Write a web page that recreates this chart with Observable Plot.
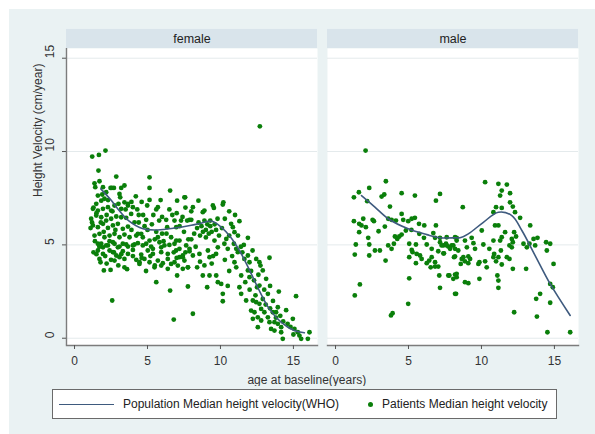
<!DOCTYPE html>
<html><head><meta charset="utf-8">
<script src="https://cdn.jsdelivr.net/npm/d3@7"></script>
<script src="https://cdn.jsdelivr.net/npm/@observablehq/plot@0.6"></script>
<style>
body{margin:0;background:#fff;font-family:"Liberation Sans",Arial,sans-serif;}
#wrap{position:relative;width:595px;height:434px;background:#fff;overflow:hidden}
#bg{position:absolute;left:9px;top:9px;right:0;bottom:0;background:#eaf2f3}
#chart{position:absolute;left:0;top:0}
#legend{position:absolute;left:52px;top:389px;width:503px;height:28px;background:#fff;border:1px solid #6a6a6a;font-size:12px;color:#222}
#legend .ln{position:absolute;left:6px;top:14px;width:55px;height:0;border-top:1.6px solid #3e5a7e}
#legend .t1{position:absolute;left:70px;top:7px;white-space:nowrap}
#legend .dt{position:absolute;left:315px;top:12px;width:5px;height:5px;border-radius:50%;background:#0a7f0a}
#legend .t2{position:absolute;left:329px;top:7px;white-space:nowrap}
</style></head>
<body>
<div id="wrap"><div id="bg"></div><div id="chart"></div>
<div id="legend"><div class="ln"></div><div class="t1" id="l1"></div><div class="dt"></div><div class="t2" id="l2"></div></div>
</div>
<script>
const panels = ["female", "male"];
const xTicks = [0, 5, 10, 15];
const yTicks = [0, 5, 10, 15];
const legendLabels = ["Population Median height velocity(WHO)", "Patients Median height velocity"];
const xTitle = "age at baseline(years)";
const yTitle = "Height Velocity (cm/year)";

// WHO population median curves [age, cm/year]
const femaleWHO = [[1.8,8.0],[2.5,7.4],[3.0,6.9],[3.7,6.3],[4.7,5.86],[5.7,5.8],[6.85,5.9],[8.0,6.05],[8.5,6.13],[9.4,6.27],[10.05,5.95],[10.7,5.41],[11.3,4.7],[11.9,3.8],[12.55,2.73],[13.35,1.57],[14.15,0.86],[15.05,0.41],[15.75,0.29]];
const maleWHO = [[1.78,7.64],[2.7,7.02],[3.61,6.4],[4.98,5.86],[6.25,5.55],[7.16,5.38],[8.3,5.38],[8.53,5.38],[9.1,5.59],[10.13,6.21],[11.16,6.75],[12.08,6.57],[12.77,5.77],[13.68,4.43],[14.71,2.91],[16.08,1.22]];

// Patients [age, cm/year]
const femalePts = [
[1.21,9.73],[1.67,9.82],[2.12,10.05],[1.64,8.98],[1.37,8.3],[1.71,8.41],[1.42,8.09],[1.95,8.09],[2.17,7.82],[2.47,8.05],[2.7,8.05],[2.86,8.66],[1.6,7.64],[1.83,7.37],[1.49,7.2],[2.05,7.47],
[1.26,6.93],[1.6,6.84],[1.95,6.93],[2.29,7.02],[2.51,6.84],[2.74,7.11],[3.01,7.2],[3.42,7.28],[3.66,7.11],[3.2,6.93],[3.08,7.73],[3.13,7.55],[3.42,8.18],[3.2,8.05],[2.56,8.05],
[1.14,6.4],[1.49,6.57],[1.83,6.48],[2.17,6.3],[2.51,6.4],[2.86,6.52],[3.2,6.48],[3.54,6.45],[3.88,6.66],
[1.26,6.04],[1.6,5.95],[1.95,6.13],[2.29,5.91],[2.63,6.04],[2.97,6.13],[3.31,5.86],[3.66,5.98],[4.11,6.21],
[1.37,5.5],[1.71,5.59],[2.05,5.41],[2.4,5.5],[2.74,5.59],[3.08,5.41],[3.42,5.55],[3.77,5.41],[4.23,5.5],[4.57,5.59],
[1.6,5.06],[1.95,4.87],[2.29,4.97],[2.63,5.14],[2.97,4.87],[3.31,5.06],[3.66,4.91],[4.11,5.02],[4.68,4.97],
[1.83,5.06],[2.17,4.97],[2.74,5.06],[3.08,4.91],[3.54,5.02],[4.0,4.97],[4.34,5.09],[4.91,5.06],[5.25,4.91],[5.82,5.14],[6.16,4.97],[6.85,5.06],[7.19,5.23],[7.65,4.97],
[1.6,4.7],[1.95,4.52],[2.63,4.61],[2.86,4.43],[3.31,4.66],[3.66,4.52],[4.0,4.73],[4.57,4.48],[5.02,4.7],[5.37,4.52],[5.94,4.61],[6.39,4.52],[6.96,4.7],[7.42,4.43],[7.88,4.66],
[1.71,4.25],[2.74,4.16],[3.08,4.34],[3.42,4.25],[4.23,4.2],[4.45,4.07],[4.79,4.25],[5.14,4.07],[5.71,4.16],[6.05,4.02],[6.39,4.25],[6.85,4.07],[7.19,4.34],[7.53,4.16],
[1.78,4.07],[2.01,3.63],[2.47,3.66],[3.42,3.8],[4.45,3.98],[5.48,3.8],[5.94,3.89],[6.39,3.72],[6.62,3.98],[7.08,3.89],[7.42,3.72],[7.77,3.8],[7.03,3.36],
[2.58,2.02],[5.6,3.0],[6.55,2.55],[6.8,1.0],[8.11,1.31],
[1.3,7.0],[1.5,6.7],[1.8,6.2],[2.0,5.7],[1.4,5.2],[1.7,4.9],[2.2,6.6],[1.9,7.7],[2.3,7.4],[1.1,5.9],[1.3,4.6],[2.1,4.4],[2.4,4.7],[1.5,4.5],[1.2,6.2],[2.6,6.8],[2.8,5.8],[2.4,5.2],[2.7,4.6],
[5.14,8.62],[5.14,8.05],[6.55,7.91],[7.58,7.55],[7.03,7.37],[5.14,7.41],[4.98,7.11],[5.71,7.02],[5.6,6.9],[4.0,7.02],[3.66,7.2],[4.91,6.34],[6.28,6.34],[6.85,6.3],[7.88,6.34],[6.35,5.95],[6.97,5.95],[5.71,5.41],[5.14,5.23],[4.68,5.41],[6.62,5.41],[6.97,5.23],[7.19,4.79],[5.94,4.87],[5.37,4.79],[4.34,5.59],
[4.4,6.6],[4.8,6.0],[5.3,6.1],[5.6,5.7],[6.0,6.5],[6.3,5.6],[6.7,6.6],[7.2,6.0],[7.5,5.7],[7.8,5.3],[5.9,7.4],[4.2,7.6],[4.6,7.3],[3.9,5.8],[4.4,6.2],[5.0,5.8],[6.1,5.2],[7.4,6.5],[8.0,6.8],[7.6,7.0],
[3.5,6.9],[3.9,7.3],[4.3,6.9],[4.7,6.6],[5.4,6.6],[5.8,6.3],[6.5,6.9],[7.0,6.7],[7.3,6.3],[5.5,5.3],[6.0,5.6],[6.5,5.0],[6.8,4.6],[7.0,4.3],[7.6,4.6],[8.3,4.9],[8.0,5.3],[8.6,4.1],[8.9,3.9],[9.4,4.0],[5.2,4.4],[4.6,4.3],[4.0,4.4],[3.2,4.5],[3.0,3.9],[2.5,4.2],[2.2,4.0],[3.6,3.7],[4.9,3.6],[5.5,3.9],[8.4,3.8],[9.5,4.4],[10.3,4.2],[10.6,3.6],[10.5,2.8],
[7.53,7.55],[8.49,7.37],[8.11,7.02],[9.48,7.11],[9.55,6.98],[10.2,7.28],[10.16,7.16],[8.79,6.75],[8.9,6.84],[7.72,6.3],[8.0,6.34],
[8.5,6.2],[8.7,6.0],[8.9,6.3],[9.0,5.8],[9.1,6.1],[9.2,5.6],[9.3,6.0],[9.4,5.7],[8.6,5.5],[8.8,5.7],[9.0,5.4],[9.3,6.3],[9.6,6.1],[9.7,5.8],[9.8,6.4],[9.9,5.5],[8.4,5.9],[8.2,5.6],
[10.73,6.13],[10.85,5.95],[11.3,6.27],[10.4,5.32],[10.96,5.68],[11.88,5.38],[10.92,5.06],[11.08,4.79],[11.19,4.61],[10.27,5.06],[10.5,4.79],[9.59,5.23],[9.82,4.87],[9.7,4.52],[9.14,4.7],[9.25,4.34],[7.88,4.79],[8.11,4.43],[8.56,4.52],[7.42,4.34],[7.77,3.8],[7.77,2.77],[9.09,2.73],[8.79,3.36],[9.25,3.36],[9.71,3.36],[9.82,3.0],[10.05,2.91],[10.16,2.38],[10.16,1.98],
[10.96,4.07],[11.08,3.8],[11.42,3.36],[11.3,2.73],[11.42,2.38],[11.64,4.25],[11.88,4.43],[11.99,4.07],[11.88,3.63],[11.99,3.27],[11.76,2.02],[12.22,2.02],[12.45,4.25],[12.67,4.07],[12.74,3.89],[13.36,4.31],[12.9,3.63],[13.13,3.18],[12.51,2.73],[12.67,2.82],[12.45,1.93],[12.67,1.84],[12.79,1.57],[13.25,2.38],[12.1,1.48],[12.33,1.39],[12.22,1.04],[12.56,1.12],[12.79,0.95],[12.56,0.59],[13.01,1.39],[13.25,1.12],[13.36,0.86],[13.59,1.39],[13.81,1.39],[13.93,1.66],[13.7,0.86],[13.93,0.77],[14.16,0.59],[13.47,0.5],[13.7,0.41],[14.16,0.32],[15.18,2.25],[14.6,0.77],[14.96,1.04],[15.07,0.5],[15.3,0.32],[15.41,0.14],[15.53,-0.03],[16.1,0.32],[15.99,-0.03],[14.27,-0.03],[12.7,11.35],
[11.5,4.6],[11.7,3.0],[12.0,2.6],[12.3,3.1],[12.4,2.3],[12.9,2.1],[13.1,1.8],[13.4,1.6],[13.6,2.0],[13.8,1.1],[14.1,1.2],[14.3,0.9],[14.5,1.5],[14.8,0.6],[15.0,0.2],[14.0,2.5],[13.4,2.8],[12.1,3.6],[11.6,5.0],[11.2,5.5],[11.0,6.6],[10.6,6.8],[10.3,6.4],[10.1,5.9],[10.6,5.5],[10.8,4.4],[11.4,4.9],[12.2,4.7],[12.6,3.4],[13.0,2.6]
];
const malePts = [
[2.06,10.05],[1.26,7.55],[1.6,7.82],[2.31,8.05],[3.45,8.41],[3.16,7.59],[3.34,7.7],[4.53,7.77],[5.44,7.64],[7.16,7.73],[6.88,7.37],[3.73,7.05],[2.17,7.34],
[1.26,6.27],[1.62,6.13],[1.9,6.4],[1.78,6.04],[2.08,5.95],[2.54,6.34],[2.63,6.27],[3.38,5.98],[3.61,6.4],[3.84,6.34],[4.14,6.3],[4.53,6.66],[4.98,6.27],[5.22,6.4],[5.44,6.45],[4.64,6.34],[5.72,6.13],[6.08,6.04],[4.82,5.77],[5.2,5.8],[4.37,5.45],[4.53,5.55],[5.74,5.59],[6.06,5.38],[6.7,5.63],[6.88,6.04],[2.95,5.73],[1.62,5.68],[2.24,5.38],[1.39,5.02],[2.31,5.02],[2.7,4.7],[3.04,4.7],[3.61,4.97],[3.84,4.79],[4.0,5.06],[4.23,5.32],[5.05,5.06],[5.51,5.02],[5.22,4.73],[5.28,4.61],[1.32,4.48],[2.31,4.43],[3.43,4.16],[5.05,4.34],[5.56,4.52],[5.79,4.43],[5.51,4.02],[5.9,4.25],[6.25,4.02],[6.42,4.16],[6.59,4.34],[6.82,4.07],[6.52,3.8],[6.82,3.84],[7.04,3.84],[6.25,5.02],[6.59,4.79],[7.16,5.14],[7.39,4.97],[7.57,5.06],[7.04,4.66],[7.43,4.55],[7.73,4.91],[7.96,4.97],[8.19,4.79],[7.8,3.36],[8.19,3.41],[8.3,3.27],[8.12,4.34],[7.11,3.36],[7.16,2.7],[5.05,3.21],[4.98,1.84],[1.67,2.88],[1.32,2.29],[3.91,1.34],[3.8,1.22],[8.26,2.38],[4.07,5.45],[6.82,5.38],[7.16,5.38],[8.3,5.38],
[10.25,8.36],[11.16,8.27],[11.74,8.23],[11.39,7.91],[11.28,7.64],[11.96,7.77],[8.72,7.02],[11.0,7.02],[10.82,6.75],[11.39,6.98],[11.96,7.28],[12.15,7.05],[12.3,6.75],[12.65,6.45],[13.34,6.04],[10.93,6.04],[11.16,6.04],[10.02,5.77],[11.62,5.68],[12.24,5.68],[12.37,5.45],[12.08,5.32],[12.15,5.14],[11.39,5.41],[11.28,5.23],[10.82,5.23],[7.62,5.41],[8.19,5.41],[8.3,5.23],[8.87,5.23],[9.33,5.38],[9.45,5.09],[7.27,4.97],[7.62,4.97],[8.07,4.97],[7.39,4.55],[7.85,4.79],[8.41,4.7],[9.0,4.87],[9.56,4.79],[10.13,5.02],[10.54,4.79],[10.87,4.52],[11.33,4.7],[11.92,4.97],[12.08,4.87],[12.88,5.06],[13.11,4.87],[13.29,5.06],[13.68,4.97],[13.84,5.38],[13.57,5.32],[14.43,5.14],[14.71,5.06],[14.48,4.7],[14.94,3.98],[14.71,2.91],[14.89,2.73],[14.02,2.38],[13.75,2.11],[14.71,1.9],[13.8,1.16],[12.24,1.39],[14.52,0.32],[16.08,0.32],
[8.19,4.38],[8.65,4.25],[8.76,4.34],[9.1,4.38],[9.22,4.25],[8.58,3.98],[8.87,4.12],[9.1,4.02],[8.87,3.0],[9.1,2.95],[8.3,3.45],[8.07,3.18],[9.79,3.98],[9.86,4.07],[10.25,4.12],[9.86,3.18],[10.36,3.8],[10.82,4.34],[11.0,4.12],[11.16,4.34],[11.39,3.95],[11.09,3.36],[11.16,3.09],[11.16,2.7],[11.74,4.34],[11.92,4.25],[12.15,3.72],[13.06,3.72],[8.19,2.38],[7.73,3.36]
];

const toRows = (sex, arr) => arr.map(([age, hv]) => ({sex, age, hv}));
const points = [...toRows("female", femalePts), ...toRows("male", malePts)];
const who = [...toRows("female", femaleWHO), ...toRows("male", maleWHO)];
const strips = panels.map(sex => ({sex}));

const xDom = [-0.55, 16.65];
const yDom = [-0.39, 15.52];
const font = '"Liberation Sans", Arial, sans-serif';

const chart = Plot.plot({
  width: 595, height: 386,
  marginLeft: 66, marginRight: 16.5, marginTop: 48, marginBottom: 41,
  style: {background: "transparent", fontFamily: font, fontSize: "12px", color: "#333"},
  fx: {domain: panels, paddingInner: 0.0383, paddingOuter: 0, axis: null, label: null},
  x: {domain: xDom},
  y: {domain: yDom},
  marks: [
    Plot.frame({fill: "white", stroke: null}),
    Plot.rect(strips, {fx: "sex", x1: () => xDom[0], x2: () => xDom[1], y1: () => yDom[1], y2: () => yDom[1] + 1.02, fill: "#d9e4eb"}),
    Plot.text(strips, {fx: "sex", text: "sex", frameAnchor: "top", dy: -9.5, lineAnchor: "middle", fontSize: 12.5, fill: "#1e1e1e"}),
    Plot.gridY(yTicks, {stroke: "#e4eaec", strokeOpacity: 1}),
    Plot.frame({anchor: "bottom", stroke: "#7c7c7c", strokeWidth: 1.4}),
    Plot.ruleX(["female"], {fx: d => d, x: () => xDom[0], stroke: "#7c7c7c", strokeWidth: 1.4}),
    Plot.axisY(yTicks, {tickSize: 4, tickFormat: () => "", stroke: "#555", label: null}),
    Plot.text(yTicks, {fx: () => "female", y: d => d, text: d => String(d), frameAnchor: "left", dx: -16, rotate: -90, fontSize: 12, fill: "#333"}),
    Plot.axisX(xTicks, {tickSize: 4, tickPadding: 7, stroke: "#555", fontSize: 12, fill: "#333", label: null}),
    Plot.dot(points, {fx: "sex", x: "age", y: "hv", r: 2.4, fill: "#0a7f0a", stroke: null}),
    Plot.line(who, {fx: "sex", x: "age", y: "hv", z: "sex", curve: "catmull-rom", stroke: "#3e5a7e", strokeWidth: 1.6}),
    Plot.text(["female"], {fx: d => d, frameAnchor: "bottom-right", dx: -10.7, dy: 35, lineAnchor: "middle", text: () => xTitle, textAnchor: "middle", fontSize: 12, fill: "#333"}),
    Plot.text(["female"], {fx: d => d, frameAnchor: "left", dx: -28, rotate: -90, text: () => yTitle, fontSize: 12, fill: "#333"})
  ]
});
document.getElementById("chart").appendChild(chart);
document.getElementById("l1").textContent = legendLabels[0];
document.getElementById("l2").textContent = legendLabels[1];
</script>
</body></html>
